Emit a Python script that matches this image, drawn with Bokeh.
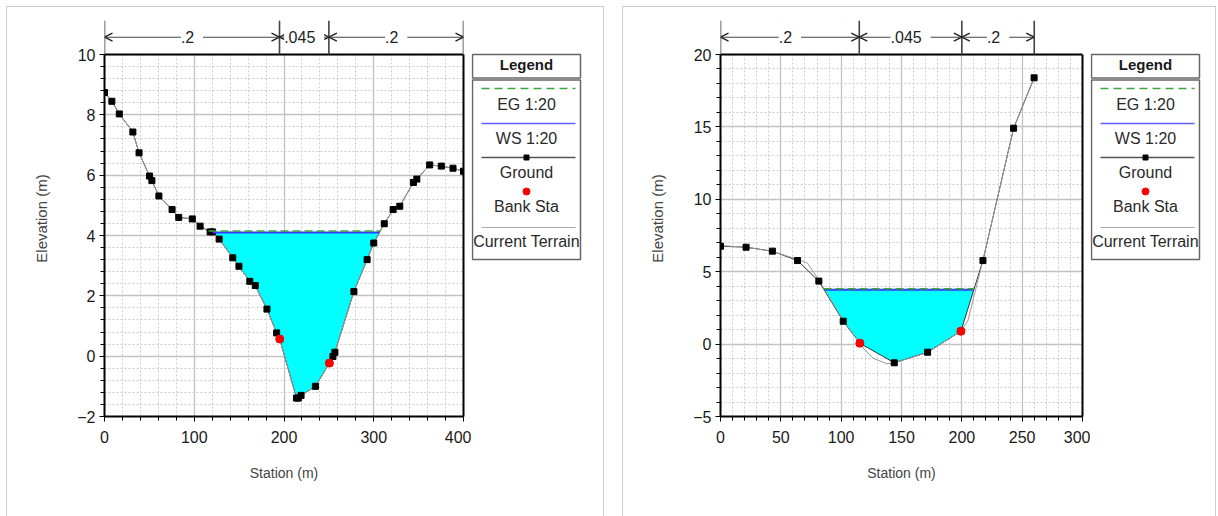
import numpy as np
from bokeh.plotting import figure
from bokeh.models import (Range1d, SingleIntervalTicker, FixedTicker, Arrow, OpenHead,
                          ColumnDataSource, LabelSet, Spacer, LinearAxis)
from bokeh.layouts import row, column
from bokeh.core.properties import value
from bokeh.embed import file_html
from bokeh.resources import INLINE

# ---------------- data: left cross-section ----------------
left_station = [0, 8.2, 16.5, 31.6, 38.5, 50.2, 52.8, 60.6, 75.3, 82.7, 97.8, 106.5, 117.7, 120.3,
                127.7, 142.9, 149.8, 161.9, 168.0, 181.0, 191.8, 195.2, 213.9, 216.0, 219.0, 235.0,
                250.6, 254.5, 256.7, 277.9, 292.6, 300.0, 311.7, 321.6, 329.0, 344.2, 348.0, 362.3,
                375.3, 388.3, 400.0]
left_elev = [8.74, 8.45, 8.03, 7.43, 6.74, 5.97, 5.82, 5.31, 4.86, 4.60, 4.55, 4.31, 4.12, 4.12,
             3.88, 3.26, 2.98, 2.48, 2.34, 1.56, 0.77, 0.57, -1.39, -1.39, -1.30, -1.00,
             -0.23, -0.01, 0.13, 2.14, 3.20, 3.75, 4.39, 4.86, 4.97, 5.76, 5.87, 6.34,
             6.30, 6.23, 6.13]
left_bank_station = [195.2, 250.6]
left_bank_elev = [0.57, -0.23]
left_terrain_station = left_station
left_terrain_elev = left_elev
left_ws = 4.10
left_eg = 4.15
left_n_bounds = [0, 195, 250, 400]
left_n_values = [".2", ".045", ".2"]

# ---------------- data: right cross-section ----------------
right_station = [0, 21.2, 43.0, 63.8, 81.5, 101.7, 115.5, 144.0, 171.6, 199.2, 217.5, 242.9, 259.9]
right_elev = [6.76, 6.69, 6.42, 5.77, 4.35, 1.58, 0.06, -1.29, -0.56, 0.89, 5.77, 14.91, 18.39]
right_bank_station = [115.5, 199.2]
right_bank_elev = [0.06, 0.89]
right_terrain_station = [0, 21, 43, 64, 72, 82, 102, 116, 119, 127, 138, 144, 172, 199, 205, 217.5, 243, 260]
right_terrain_elev = [6.8, 6.7, 6.4, 5.85, 5.6, 4.35, 1.6, 0.0, -0.35, -1.0, -1.36, -1.3, -0.56, 0.9, 1.6, 5.8, 14.9, 18.4]
right_ws = 3.75
right_eg = 3.82
right_n_bounds = [0, 115, 200, 260]
right_n_values = [".2", ".045", ".2"]

legend_labels = ["EG 1:20", "WS 1:20", "Ground", "Bank Sta", "Current Terrain"]

FONT = "'Liberation Sans', Arial, sans-serif"

# layout (pixels)
FIG_H = 509          # panel content height
TOP_B = 13           # frame top (n-bar top) below panel content top
PLOT_TOP_PX = 34     # distance from frame top to the plotting area top (y max)
PLOT_H = 362         # plotting area height
BOT_B = FIG_H - TOP_B - PLOT_TOP_PX - PLOT_H


def crossings(st, el, level):
    xs = []
    for i in range(1, len(st)):
        a, b = el[i - 1] - level, el[i] - level
        if a * b < 0:
            t = a / (a - b)
            xs.append(st[i - 1] + t * (st[i] - st[i - 1]))
    return xs


def water_area(st, el, level):
    xs, ys = [], []
    for i in range(len(st)):
        if i > 0:
            a, b = el[i - 1] - level, el[i] - level
            if a * b < 0:
                t = a / (a - b)
                xs.append(st[i - 1] + t * (st[i] - st[i - 1]))
                ys.append(level)
        xs.append(st[i])
        ys.append(el[i])
    ys = np.array(ys)
    return np.array(xs), ys, np.maximum(ys, level)


def make_main(st, el, bst, bel, tst, tel, ws, eg, bounds, nvals, xr, yr, xint, yint,
              mbl, frame_w):
    width = mbl + frame_w + 8
    ppu = PLOT_H / (yr[1] - yr[0])
    y_frame_top = yr[1] + PLOT_TOP_PX / ppu
    p = figure(width=width, height=FIG_H, x_range=Range1d(*xr),
               y_range=Range1d(yr[0], y_frame_top),
               toolbar_location=None, output_backend="svg",
               min_border_left=mbl, min_border_right=8, min_border_top=TOP_B,
               min_border_bottom=BOT_B,
               x_axis_label="Station (m)", y_axis_label="Elevation (m)")
    p.xaxis.ticker = SingleIntervalTicker(interval=xint, num_minor_ticks=5)
    majors = list(np.arange(yr[0], yr[1] + 1e-9, yint))
    minors = [v for v in np.arange(yr[0], yr[1] + 1e-9, yint / 5.0)
              if min(abs(v - m) for m in majors) > 1e-6]
    p.yaxis.ticker = FixedTicker(ticks=majors, minor_ticks=minors)
    p.yaxis.bounds = (yr[0], yr[1])
    for ax in (p.xaxis[0], p.yaxis[0]):
        ax.axis_line_width = 2
        ax.axis_line_color = "black"
        ax.major_tick_in = 0
        ax.major_tick_out = 5
        ax.minor_tick_in = 0
        ax.minor_tick_out = 4
        ax.major_tick_line_color = "black"
        ax.minor_tick_line_color = "black"
        ax.major_label_text_font = FONT
        ax.major_label_text_font_size = "16px"
        ax.major_label_text_color = "#1a1a1a"
        ax.axis_label_text_font = FONT
        ax.axis_label_text_font_style = "normal"
        ax.axis_label_text_color = "#444444"
    p.xaxis.axis_label_text_font_size = "14px"
    p.yaxis.axis_label_text_font_size = "15px"
    p.xaxis.major_label_standoff = 9
    p.yaxis.major_label_standoff = 4
    p.xaxis.axis_label_standoff = 19
    p.yaxis.axis_label_standoff = 24
    right_ax = LinearAxis(bounds=(yr[0], yr[1]), ticker=FixedTicker(ticks=[]),
                          axis_line_width=2, axis_line_color="black",
                          major_tick_out=0, major_tick_in=0, minor_tick_out=0, minor_tick_in=0,
                          major_label_text_font_size="0px", major_label_standoff=0)
    p.add_layout(right_ax, "right")
    p.grid.grid_line_color = "#c2c2c2"
    p.grid.grid_line_width = 1.3
    p.grid.minor_grid_line_color = "#cccccc"
    p.grid.minor_grid_line_dash = "2 2"
    p.grid.minor_grid_line_width = 1
    p.outline_line_color = None

    # white band above the plotting area (hosts the Manning's n bar)
    p.quad(left=[xr[0]], right=[xr[1]], bottom=[yr[1]], top=[y_frame_top],
           fill_color="white", line_color=None)
    p.line([xr[0], xr[1]], [yr[1], yr[1]], line_color="black", line_width=2)

    xs, y1, y2 = water_area(st, el, ws)
    p.varea(x=xs, y1=y1, y2=y2, fill_color="#00ffff")
    p.line(st, el, line_color="#333333", line_width=1)
    p.line(tst, tel, line_color="#999999", line_width=1)
    p.scatter(st, el, marker="square", size=6, color="black")
    wx = crossings(st, el, ws)
    ex = crossings(st, el, eg)
    p.line([min(wx), max(wx)], [ws, ws], line_color="#3a3aff", line_width=2)
    p.line([min(ex), max(ex)], [eg, eg], line_color="#3aa83a", line_width=1.5, line_dash="8 4")
    p.scatter(bst, bel, marker="circle", size=8, color="red")

    # Manning's n bar
    y_arrow = yr[1] + 17.3 / ppu
    n = len(bounds)
    p.segment(x0=bounds, y0=[yr[1]] * n, x1=bounds, y1=[y_frame_top] * n,
              line_color="#444444", line_width=1.6)
    src_a = ColumnDataSource(dict(x0=bounds[:-1], x1=bounds[1:], y=[y_arrow] * (n - 1)))
    p.add_layout(Arrow(x_start="x0", y_start="y", x_end="x1", y_end="y", source=src_a,
                       start=OpenHead(size=8, line_width=1.4, line_color="#222222"),
                       end=OpenHead(size=8, line_width=1.4, line_color="#222222"),
                       line_color="#444444", line_width=1.1))
    mids = [(a + b) / 2 for a, b in zip(bounds[:-1], bounds[1:])]
    src_l = ColumnDataSource(dict(x=mids, y=[y_arrow] * (n - 1), t=[" %s " % v for v in nvals]))
    p.add_layout(LabelSet(x="x", y="y", text="t", source=src_l, text_align="center",
                          text_baseline="middle", text_font=value(FONT), text_font_size="16px",
                          text_color="#222222", background_fill_color="white"))
    return p


def make_legend(x0, x1, bx0, bx1):
    # ranges in page pixels: x from left edge, y from top (flipped)
    y_top = 7 + TOP_B
    y_bot = y_top + PLOT_TOP_PX + PLOT_H
    f = figure(width=x1 - x0, height=FIG_H, x_range=Range1d(x0, x1), y_range=Range1d(y_bot, y_top),
               toolbar_location=None, output_backend="svg", min_border_left=0, min_border_right=0,
               min_border_top=TOP_B, min_border_bottom=BOT_B,
               x_axis_location=None, y_axis_location=None)
    f.grid.visible = False
    f.outline_line_color = None
    cx = (bx0 + bx1) / 2
    f.quad(left=[bx0, bx0], right=[bx1, bx1], top=[54, 79.5], bottom=[77.5, 259],
           fill_color="white", line_color="#666666", line_width=1.5)
    f.text(x=[cx], y=[64], text=["Legend"], text_align="center", text_baseline="middle",
           text_font=value(FONT), text_font_size="15px", text_font_style="bold",
           text_color="#1a1a1a")
    l0, l1 = bx0 + 9, bx1 - 5
    f.line([l0, l1], [88, 88], line_color="#3aa83a", line_width=1.5, line_dash="8 5")
    f.line([l0, l1], [123, 123], line_color="#6060ff", line_width=1.5)
    f.line([l0, l1], [157, 157], line_color="#555555", line_width=1.5)
    f.scatter([cx], [157], marker="square", size=5, color="black")
    f.scatter([cx], [191], marker="circle", size=7, color="red")
    f.line([l0, l1], [227, 227], line_color="#aaaaaa", line_width=1.2)
    f.text(x=[cx] * 5, y=[104, 138, 172, 206, 241], text=legend_labels, text_align="center",
           text_baseline="middle", text_font=value(FONT), text_font_size="16px",
           text_color="#2a2a2a")
    return f


border = {"border-left": "1px solid #cccccc", "border-top": "1px solid #cccccc",
          "border-right": "1px solid #cccccc"}

left_main = make_main(left_station, left_elev, left_bank_station, left_bank_elev,
                      left_terrain_station, left_terrain_elev, left_ws, left_eg,
                      left_n_bounds, left_n_values, (0, 400), (-2, 10), 100, 2,
                      97, 359)
left_leg = make_legend(471, 603, 472, 580)
right_main = make_main(right_station, right_elev, right_bank_station, right_bank_elev,
                       right_terrain_station, right_terrain_elev, right_ws, right_eg,
                       right_n_bounds, right_n_values, (0, 300), (-5, 20), 50, 5,
                       97, 362)
right_leg = make_legend(1090, 1215, 1091, 1199)

left_panel = row(left_main, left_leg, styles=border)
right_panel = row(right_main, right_leg, styles=border)
page = column(Spacer(width=10, height=6),
              row(Spacer(width=6, height=10), left_panel, Spacer(width=18, height=10), right_panel))

open("out.html", "w").write(file_html(page, INLINE))
